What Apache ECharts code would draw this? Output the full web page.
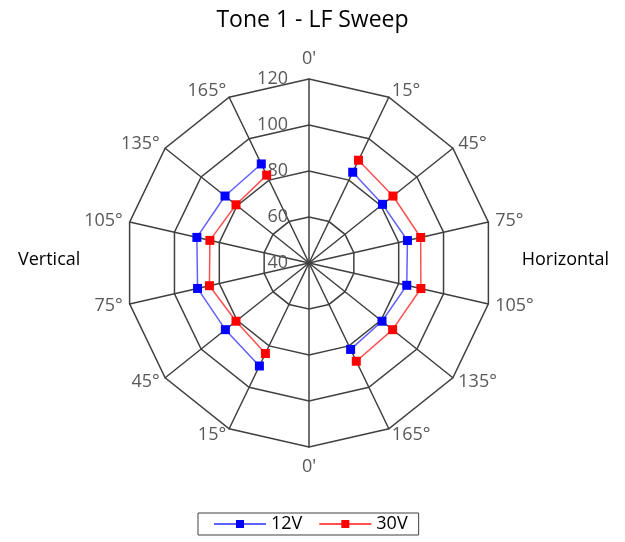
<!DOCTYPE html>
<html>
<head>
<meta charset="utf-8">
<script src="https://cdn.jsdelivr.net/npm/echarts@6/dist/echarts.min.js"></script>
<style>
  html, body { margin: 0; padding: 0; background: #fff; }
  #chart { width: 625px; height: 542px; }
</style>
</head>
<body>
<div id="chart"></div>
<script>
// spokes in clockwise order, starting at the top
const angleLabels = ["0'", '15°', '45°', '75°', '105°', '135°', '165°', "0'", '15°', '45°', '75°', '105°', '135°', '165°'];
const radiusTicks = [40, 60, 80, 100, 120];
const volts12 = [null, 83.8, 80.9, 83.9, 83.6, 80.6, 81.7, null, 89.7, 86.5, 89.7, 90.0, 86.7, 87.8];
const volts30 = [null, 89.6, 86.7, 89.8, 89.9, 86.5, 87.4, null, 83.7, 80.6, 84.4, 84.2, 80.6, 82.4];

const FONT = 'Open Sans';
const GRID = '#404040';
const TEXT_GREY = '#595959';
const CENTER = [309, 263];
const RADIUS = 184;

// radar lays indicators out counter-clockwise, so flip the order
const n = angleLabels.length;
const indicator = angleLabels.map((_, i) => {
    const k = (n - i) % n;
    const ind = {
        name: angleLabels[k],
        min: radiusTicks[0],
        max: radiusTicks[radiusTicks.length - 1]
    };
    if (i === 0) {
        ind.nameGap = 11;
        ind.axisLabel = { show: true, color: TEXT_GREY, fontSize: 18, fontFamily: FONT, margin: 21 };
    }
    if (i === n / 2) {
        ind.nameGap = 11;
    }
    return ind;
});

const chart = echarts.init(document.getElementById('chart'));

chart.setOption({
    animation: false,
    title: [
        { text: 'Tone 1 - LF Sweep', left: 'center', top: 4,
          textStyle: { fontFamily: FONT, fontSize: 23, fontWeight: 'normal', color: '#000' } },
        { text: 'Vertical', left: 13, top: 246,
          textStyle: { fontFamily: FONT, fontSize: 18, fontWeight: 'normal', color: '#000' } },
        { text: 'Horizontal', right: 11, top: 246,
          textStyle: { fontFamily: FONT, fontSize: 18, fontWeight: 'normal', color: '#000' } }
    ],
    legend: {
        data: ['12V', '30V'],
        left: 198,
        top: 513,
        padding: [2, 11, 2, 15],
        borderColor: GRID,
        borderWidth: 1,
        itemWidth: 52,
        itemHeight: 10,
        itemGap: 16,
        textStyle: { fontFamily: FONT, fontSize: 18, color: '#000' }
    },
    radar: {
        center: CENTER,
        radius: RADIUS,
        startAngle: 90,
        shape: 'polygon',
        splitNumber: radiusTicks.length - 1,
        indicator: indicator,
        nameGap: 7,
        axisName: { color: TEXT_GREY, fontSize: 18, fontFamily: FONT },
        axisLine: { lineStyle: { color: GRID, width: 1.5 } },
        splitLine: { lineStyle: { color: GRID, width: 1.5 } },
        splitArea: { show: false },
        axisTick: { show: false },
        axisLabel: { show: false }
    },
    polar: { center: CENTER, radius: RADIUS },
    angleAxis: {
        type: 'category',
        data: angleLabels,
        boundaryGap: false,
        startAngle: 90,
        clockwise: true,
        show: false
    },
    radiusAxis: {
        min: radiusTicks[0],
        max: radiusTicks[radiusTicks.length - 1],
        show: false
    },
    series: [
        {
            name: '12V', type: 'line', coordinateSystem: 'polar',
            data: volts12,
            symbol: 'rect', symbolSize: 9,
            itemStyle: { color: '#0000ff' },
            lineStyle: { color: '#6060ff', width: 1.5 }
        },
        {
            name: '30V', type: 'line', coordinateSystem: 'polar',
            data: volts30,
            symbol: 'rect', symbolSize: 9,
            itemStyle: { color: '#ff0000' },
            lineStyle: { color: '#ff5050', width: 1.5 }
        }
    ]
});
</script>
</body>
</html>
